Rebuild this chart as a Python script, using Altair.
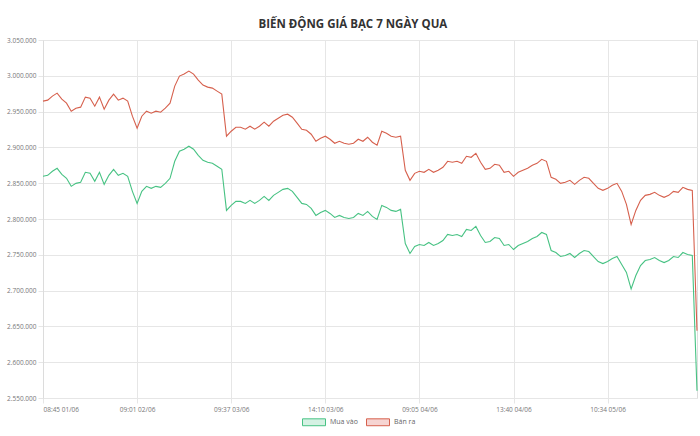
import altair as alt
import pandas as pd

title_text = "BIẾN ĐỘNG GIÁ BẠC 7 NGÀY QUA"
series_names = ["Mua vào", "Bán ra"]
x_labels = ["08:45 01/06", "09:01 02/06", "09:37 03/06", "14:10 03/06",
            "09:05 04/06", "13:40 04/06", "10:34 05/06"]
label_every = 20

ban_ra = [
    2964600, 2966000, 2971600, 2975800, 2967400, 2961800, 2950600, 2954800, 2956200, 2970200,
    2968800, 2957600, 2970200, 2953400, 2966000, 2974400, 2966000, 2968800, 2964600, 2943600,
    2926800, 2943600, 2950600, 2947800, 2950600, 2949200, 2954800, 2961800, 2985600, 2999600,
    3002400, 3006600, 3002400, 2994000, 2987000, 2984200, 2982800, 2978600, 2974400, 2915600,
    2922600, 2928200, 2928200, 2925400, 2929600, 2925400, 2929600, 2935200, 2929600, 2936600,
    2940800, 2945000, 2946400, 2942200, 2933800, 2925400, 2924000, 2918400, 2908600, 2912800,
    2915600, 2911400, 2905800, 2908600, 2905800, 2904400, 2905800, 2911400, 2908600, 2914200,
    2907200, 2903000, 2922600, 2919800, 2915600, 2914200, 2915600, 2868000, 2854000, 2863800,
    2866600, 2865200, 2869400, 2865200, 2868000, 2872200, 2880600, 2879200, 2880600, 2877800,
    2887600, 2886200, 2891800, 2879200, 2869400, 2870800, 2876400, 2875000, 2865200, 2866600,
    2859600, 2865200, 2868000, 2870800, 2875000, 2877800, 2883400, 2880600, 2858200, 2855400,
    2849800, 2851200, 2854000, 2848400, 2854000, 2858200, 2856800, 2849800, 2842800, 2840000,
    2842800, 2847000, 2849800, 2838600, 2820400, 2792400, 2812000, 2826000, 2833000, 2834400,
    2837200, 2833000, 2830200, 2833000, 2838600, 2837200, 2844200, 2841400, 2840000, 2644000,
]

mua_vao = [
    2859600, 2861000, 2866600, 2870800, 2862400, 2856800, 2845600, 2849800, 2851200, 2865200,
    2863800, 2852600, 2865200, 2848400, 2861000, 2869400, 2861000, 2863800, 2859600, 2838600,
    2821800, 2838600, 2845600, 2842800, 2845600, 2844200, 2849800, 2856800, 2880600, 2894600,
    2897400, 2901600, 2897400, 2889000, 2882000, 2879200, 2877800, 2873600, 2869400, 2812000,
    2819000, 2824600, 2824600, 2821800, 2826000, 2821800, 2826000, 2831600, 2826000, 2833000,
    2837200, 2841400, 2842800, 2838600, 2830200, 2821800, 2820400, 2814800, 2805000, 2809200,
    2812000, 2807800, 2802200, 2805000, 2802200, 2800800, 2802200, 2807800, 2805000, 2810600,
    2803600, 2799400, 2819000, 2816200, 2812000, 2810600, 2813400, 2765800, 2751800, 2761600,
    2764400, 2763000, 2767200, 2763000, 2765800, 2770000, 2778400, 2777000, 2778400, 2775600,
    2785400, 2784000, 2789600, 2777000, 2767200, 2768600, 2774200, 2772800, 2763000, 2764400,
    2757400, 2763000, 2765800, 2768600, 2772800, 2775600, 2781200, 2778400, 2756000, 2753200,
    2747600, 2749000, 2751800, 2746200, 2751800, 2756000, 2754600, 2747600, 2740600, 2737800,
    2740600, 2744800, 2747600, 2736400, 2725400, 2702400, 2721000, 2735000, 2742000, 2743400,
    2746200, 2742000, 2739200, 2742000, 2747600, 2746200, 2753200, 2750400, 2749000, 2560000,
]

y_ticks = [2550000, 2600000, 2650000, 2700000, 2750000, 2800000, 2850000,
           2900000, 2950000, 3000000, 3050000]

rows = []
for i, v in enumerate(mua_vao):
    rows.append({"idx": i, "price": v, "series": series_names[0]})
for i, v in enumerate(ban_ra):
    rows.append({"idx": i, "price": v, "series": series_names[1]})
df = pd.DataFrame(rows)

x_vals = [i * label_every for i in range(len(x_labels))]
label_array = "[" + ",".join("'" + s + "'" for s in x_labels) + "]"
x_label_expr = f"{label_array}[round(datum.value / {label_every})]"

grid_color = "#e6e6e6"
green = "#47c283"
red = "#d6604d"
green_fill = "#d5f1e3"
red_fill = "#f6d4d2"

legend_kw = dict(
    title=None, orient="none", direction="horizontal",
    legendX=259, legendY=370,
    symbolType="M-1,-0.3H1V0.3H-1Z", symbolSize=529,
    symbolStrokeWidth=1, symbolOpacity=1, labelFontSize=7, labelColor="#666",
    labelFont="Open Sans", labelOffset=4, columnPadding=6,
)

x_enc = alt.X("idx:Q",
              scale=alt.Scale(domain=[0, len(ban_ra) - 1], nice=False, zero=False),
              axis=alt.Axis(values=x_vals, labelExpr=x_label_expr, title=None,
                            grid=True, gridColor=grid_color, tickColor=grid_color,
                            tickSize=5, domainColor=grid_color, labelFontSize=6.5,
                            labelColor="#777", labelPadding=3, labelFont="Open Sans"))
y_enc = alt.Y("price:Q",
              scale=alt.Scale(domain=[2550000, 3050000], nice=False, zero=False),
              axis=alt.Axis(values=y_ticks,
                            labelExpr="replace(replace(format(datum.value, ','), ',', '.'), ',', '.')",
                            title=None, grid=True, gridColor=grid_color, tickColor=grid_color,
                            tickSize=5, domainColor="#dcdcdc", labelFontSize=6.5,
                            labelColor="#777", labelPadding=2, labelFont="Open Sans"))

base = alt.Chart(df)

lines = base.mark_line(strokeWidth=1.1, interpolate="linear").encode(
    x=x_enc, y=y_enc,
    color=alt.Color("series:N",
                    scale=alt.Scale(domain=series_names, range=[green, red]),
                    sort=series_names, legend=alt.Legend(**legend_kw)),
    order=alt.Order("idx:Q"),
)

legend_fill = base.mark_point(filled=True, opacity=0).encode(
    x=x_enc, y=y_enc,
    fill=alt.Fill("series:N",
                  scale=alt.Scale(domain=series_names, range=[green_fill, red_fill]),
                  sort=series_names, legend=alt.Legend(**legend_kw)),
).transform_filter("datum.idx < 0")

chart = alt.layer(legend_fill, lines).properties(
    width=654, height=358,
    title=alt.TitleParams(title_text, fontSize=11.5, font="Open Sans", fontWeight="bold",
                          color="#333", anchor="middle", frame="bounds",
                          baseline="bottom", offset=11, dy=15),
    autosize=alt.AutoSizeParams(type="none"),
    padding={"left": 43, "top": 40, "right": 3, "bottom": 38},
).configure_view(stroke=None).configure(background="white")

chart.save("out.html", embed_options={"renderer": "svg", "actions": False})
